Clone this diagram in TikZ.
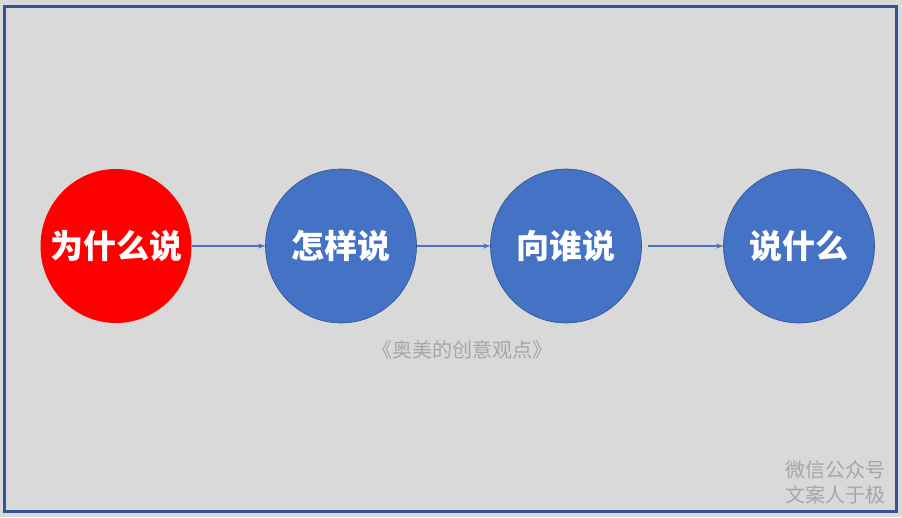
\documentclass[tikz,border=0pt]{standalone}
\usepackage{fontspec}
\newfontfamily\cjk{Noto Sans CJK SC}
\usetikzlibrary{arrows.meta,shapes.geometric}
\definecolor{slide}{HTML}{D9D9D9}
\definecolor{frameblue}{HTML}{2F5597}
\definecolor{accentblue}{HTML}{4472C4}
\definecolor{edgeblue}{HTML}{2F528F}
\definecolor{notegray}{HTML}{A6A6A6}
\begin{document}
\begin{tikzpicture}[x=1pt,y=-1pt]
        % Styles
        \tikzstyle{stage circle}=[ellipse,minimum width=151pt,minimum height=154pt,inner sep=-30pt,fill=accentblue,draw=edgeblue,line width=0.6pt,text=white,font=\cjk\bfseries\fontsize{33}{33}\selectfont]
        \tikzstyle{flow}=[accentblue,line width=1.4pt,-{Stealth[length=7pt,width=5pt]}]
        \tikzstyle{note text}=[text=notegray,inner sep=0pt,font=\cjk\fontsize{20}{20}\selectfont]
        %background and frame
        \fill[slide] (0,0) rectangle (902,517);
        \draw[frameblue,line width=3pt] (4.5,6.5) rectangle (896.5,511.5);
        %stages
        \node[stage circle,fill=red,draw=none] (why) at (116,246) {为什么说};
        \node[stage circle] (how) at (341,246) {怎样说};
        \node[stage circle] (whom) at (566,246) {向谁说};
        \node[stage circle] (what) at (799,246) {说什么};
        %arrows
        \draw[flow] (why) -- (how);
        \draw[flow] (how) -- (whom);
        \draw[flow,shorten <=6pt] (whom) -- (what);
        %texts
        \node[note text] (source) at (462,350) {《奥美的创意观点》};
        \node[note text,anchor=east] (wechat) at (886,470) {微信公众号};
        \node[note text,anchor=east] (account) at (886,495) {文案人于极};
\end{tikzpicture}
\end{document}
